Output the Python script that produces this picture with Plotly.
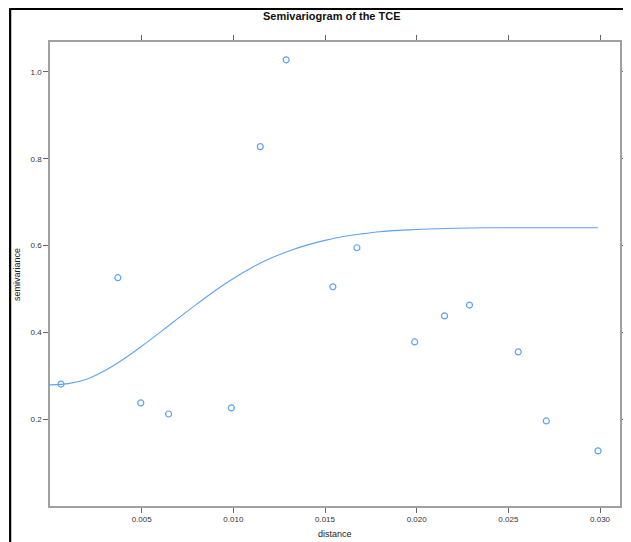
import plotly.graph_objects as go

# Empirical semivariogram points
distance = [0.00060, 0.00370, 0.00495, 0.00647, 0.00989, 0.01147, 0.01288,
            0.01543, 0.01674, 0.01989, 0.02152, 0.02288, 0.02554, 0.02707, 0.02989]
semivariance = [0.281, 0.526, 0.2375, 0.212, 0.226, 0.828, 1.028,
                0.505, 0.595, 0.378, 0.438, 0.463, 0.355, 0.196, 0.127]

# Fitted model curve
model_distance = [0.000, 0.001, 0.002, 0.003, 0.004, 0.005, 0.006, 0.007, 0.008,
                  0.009, 0.010, 0.011, 0.012, 0.013, 0.014, 0.015, 0.016, 0.017,
                  0.018, 0.019, 0.020, 0.022, 0.024, 0.026, 0.028, 0.0299]
model_gamma = [0.279, 0.282, 0.292, 0.312, 0.338, 0.368, 0.400, 0.433, 0.465,
               0.496, 0.524, 0.549, 0.570, 0.587, 0.601, 0.612, 0.621, 0.627,
               0.632, 0.635, 0.637, 0.640, 0.641, 0.641, 0.641, 0.641]

x_ticks = [0.005, 0.010, 0.015, 0.020, 0.025, 0.030]
x_ticklabels = ["0.005", "0.010", "0.015", "0.020", "0.025", "0.030"]
y_ticks = [0.2, 0.4, 0.6, 0.8, 1.0]
y_ticklabels = ["0.2", "0.4", "0.6", "0.8", "1.0"]

color = "#5da3f5"

fig = go.Figure()
fig.add_trace(go.Scatter(
    x=model_distance, y=model_gamma, mode="lines",
    line=dict(color=color, width=1.1, shape="spline", smoothing=0.8),
    showlegend=False, hoverinfo="skip"))
fig.add_trace(go.Scatter(
    x=distance, y=semivariance, mode="markers",
    marker=dict(symbol="circle-open", size=6, color=color, line=dict(width=1.2, color=color)),
    showlegend=False))

OFF = 8  # page body margin
W, H = 631, 542
# target plot area in screen pixels: x 50..622, y 42..506
ml, mt = 50 - OFF, 42 - OFF
mr = (W + OFF) - 622
mb = (H + OFF) - 506
pw, ph = W - ml - mr, H - mt - mb


def px_x(sx):
    return (sx - 50) / pw


def px_y(sy):
    return (506 - sy) / ph


axis_common = dict(
    showline=True, linecolor="#a0a0a0", linewidth=1.5, mirror="ticks",
    ticks="outside", ticklen=5, tickwidth=1, tickcolor="#666666",
    showgrid=False, zeroline=False,
    tickfont=dict(family="Liberation Sans, Arial, sans-serif", size=8, color="#333333"),
)

fig.update_layout(
    width=W, height=H,
    margin=dict(l=ml, r=mr, t=mt, b=mb, pad=0),
    paper_bgcolor="white", plot_bgcolor="white",
    font=dict(family="Liberation Sans, Arial, sans-serif"),
    xaxis=dict(range=[0.0, 0.03109], tickvals=x_ticks, ticktext=x_ticklabels, **axis_common),
    yaxis=dict(range=[0.0, 1.069], tickvals=y_ticks, ticktext=y_ticklabels, **axis_common),
    annotations=[
        dict(text="<b>Semivariogram of the TCE</b>", xref="paper", yref="paper",
             x=px_x(333), y=px_y(16), xanchor="center", yanchor="middle",
             showarrow=False, font=dict(size=11, color="#111111")),
        dict(text="distance", xref="paper", yref="paper",
             x=px_x(336), y=px_y(534), xanchor="center", yanchor="middle",
             showarrow=False, font=dict(size=9, color="#222222")),
        dict(text="semivariance", xref="paper", yref="paper", textangle=-90,
             x=px_x(17), y=px_y(275), xanchor="center", yanchor="middle",
             showarrow=False, font=dict(size=9, color="#222222")),
    ],
    shapes=[
        dict(type="line", xref="paper", yref="paper",
             x0=px_x(10), x1=px_x(10), y0=px_y(9), y1=px_y(560),
             line=dict(color="black", width=2.2)),
        dict(type="line", xref="paper", yref="paper",
             x0=px_x(9), x1=px_x(650), y0=px_y(9), y1=px_y(9),
             line=dict(color="black", width=2.2)),
    ],
)

fig.write_html("out.html")
